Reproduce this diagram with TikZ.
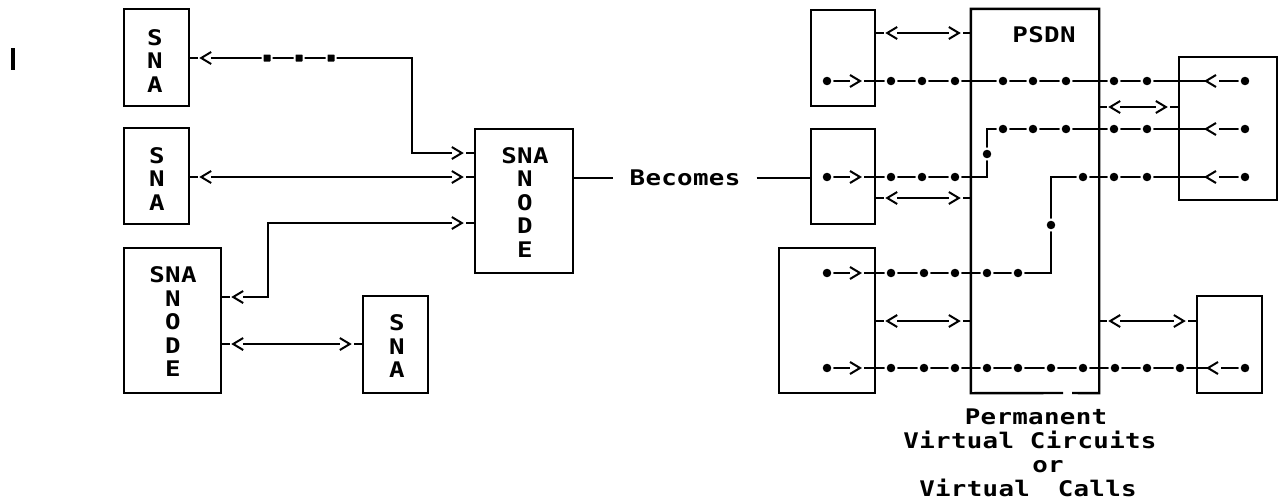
\documentclass[tikz,border=0pt]{standalone}
\usepackage{fontspec}
\newfontfamily\ibm[FakeStretch=1.2,LetterSpace=1.5]{DejaVu Sans Mono}
\tikzset{
  boxs/.style={draw, line width=2.4pt, inner sep=0pt, rectangle},
  ln/.style={line width=2pt},
  dotn/.style={circle, fill=black, draw=white, line width=2pt, inner sep=0pt, minimum size=11pt},
  sqn/.style={rectangle, fill=black, draw=white, line width=2pt, inner sep=0pt, minimum size=9pt, rounded corners=1pt},
  txt/.style={font=\ibm\bfseries\fontsize{21.5pt}{23.5pt}\selectfont, align=center, inner sep=0pt},
}
% end glyphs: "-<" at a left end, ">-" at a right end
\newcommand\tipL[1]{\draw[ln] (#1) ++(21,-6) -- ++(-10,6) -- ++(10,6); \draw[ln] (#1) -- ++(8,0);}
\newcommand\tipR[1]{\draw[ln] (#1) ++(-22,-6) -- ++(10,6) -- ++(-10,6); \draw[ln] (#1) -- ++(-8,0);}
\newcommand\bidir[3]{%
  \coordinate (bs) at (#1.east |- 0,#3);
  \coordinate (be) at (#2.west |- 0,#3);
  \tipL{bs}\tipR{be}
  \draw[ln] ([xshift=21pt]bs) -- ([xshift=-22pt]be);}
% chevrons by tip
\newcommand\chR[2]{\draw[ln] (#1-10,#2-6) -- (#1,#2) -- (#1-10,#2+6);}
\newcommand\chL[2]{\draw[ln] (#1+10,#2-6) -- (#1,#2) -- (#1+10,#2+6);}
\begin{document}
\begin{tikzpicture}[x=1pt,y=-1pt]
\useasboundingbox (0,0) rectangle (1279,501);

% change bar
\draw[line width=4pt] (13,48) -- (13,70);

% ---------- left part ----------
\node[boxs, minimum width=65pt, minimum height=97pt] (L1) at (156.5,57.5) {};
\node[boxs, minimum width=65pt, minimum height=96pt] (L2) at (156.5,176) {};
\node[boxs, minimum width=97pt, minimum height=145pt] (L3) at (172.5,320.5) {};
\node[boxs, minimum width=65pt, minimum height=97pt] (L4) at (395.5,344.5) {};
\node[boxs, minimum width=98pt, minimum height=144pt] (M) at (524,201) {};

\node[txt] (t1) at (155,61) {S\\N\\A};
\node[txt] (t2) at (157,179) {S\\N\\A};
\node[txt] (t3) at (173,322) {SNA\\N\\O\\D\\E};
\node[txt] (t4) at (397,346.5) {S\\N\\A};
\node[txt] (t5) at (525,202.5) {SNA\\N\\O\\D\\E};

% L1 to node, with squares
\coordinate (a0) at (L1.east |- 0,58);
\coordinate (a1) at (M.west |- 0,153);
\tipL{a0}\tipR{a1}
\draw[ln] ([xshift=21pt]a0) -| (412,153) -- ([xshift=-22pt]a1);
\node[sqn] (s1) at (267,58) {};
\node[sqn] (s2) at (299,58) {};
\node[sqn] (s3) at (331,58) {};

% L2 to node
\bidir{L2}{M}{177}

% L3 to node
\coordinate (c1) at (M.west |- 0,223);
\coordinate (c0) at (L3.east |- 0,297);
\tipR{c1}\tipL{c0}
\draw[ln] ([xshift=-22pt]c1) -| (268,297) -- ([xshift=21pt]c0);

% L3 to L4
\bidir{L3}{L4}{344}

% Becomes
\node[txt, inner xsep=16pt] (bec) at (685,177.5) {Becomes};

% ---------- right part ----------
\node[boxs, minimum width=64pt, minimum height=96pt] (A) at (843,58) {};
\node[boxs, minimum width=64pt, minimum height=95pt] (B) at (843,176.5) {};
\node[boxs, minimum width=96pt, minimum height=145pt] (C) at (827,320.5) {};
\node[inner sep=0pt, minimum width=128pt, minimum height=384pt] (P) at (1035,201) {};
\draw[line width=2.4pt] (1063,393) -- (P.south west) -- (P.north west) -- (P.north east) -- (P.south east) -- (1072,393);
\node[boxs, minimum width=98pt, minimum height=143pt] (D) at (1228,128.5) {};
\node[boxs, minimum width=65pt, minimum height=97pt] (E) at (1229.5,344.5) {};
\node[txt] (psdn) at (1044,35) {PSDN};

\draw[ln] (M.east |- bec) -- (bec.west);
\draw[ln] (bec.east) -- (B.west |- bec);

\bidir{A}{P}{33}
\bidir{P}{D}{107}
\bidir{B}{P}{198}
\bidir{C}{P}{321}
\bidir{P}{E}{321}

% row y=81
\draw[ln] (827,81) -- (850,81);
\chR{860}{81}
\draw[ln] (864,81) -- (1206,81);
\chL{1206}{81}
\draw[ln] (1219,81) -- (1245,81);
\foreach \x in {827,891,922,955,1003,1033,1066,1114,1147,1245}
  \node[dotn] (da\x) at (\x,81) {};

% rows y=177 -> 129
\draw[ln] (827,177) -- (850,177);
\chR{860}{177}
\draw[ln] (864,177) -- (987,177) -- (987,129) -- (1206,129);
\chL{1206}{129}
\draw[ln] (1219,129) -- (1245,129);
\foreach \x in {827,891,922,955}
  \node[dotn] (db\x) at (\x,177) {};
\node[dotn] (dbv) at (987,154) {};
\foreach \x in {1003,1033,1066,1114,1147,1245}
  \node[dotn] (dc\x) at (\x,129) {};

% rows y=273 -> 177
\draw[ln] (827,273) -- (850,273);
\chR{860}{273}
\draw[ln] (864,273) -- (1051,273) -- (1051,177) -- (1206,177);
\chL{1206}{177}
\draw[ln] (1219,177) -- (1245,177);
\foreach \x in {827,891,924,955,987,1018}
  \node[dotn] (dd\x) at (\x,273) {};
\node[dotn] (ddv) at (1051,225) {};
\foreach \x in {1083,1114,1147,1245}
  \node[dotn] (de\x) at (\x,177) {};

% row y=368
\draw[ln] (827,368) -- (850,368);
\chR{860}{368}
\draw[ln] (864,368) -- (1208,368);
\chL{1208}{368}
\draw[ln] (1221,368) -- (1245,368);
\foreach \x in {827,891,924,955,987,1018,1051,1083,1115,1147,1180,1245}
  \node[dotn] (df\x) at (\x,368) {};

% caption
\node[txt, anchor=base] (pv1) at (1036,424) {Permanent};
\node[txt, anchor=base] (pv2) at (1030,448) {Virtual Circuits};
\node[txt, anchor=base] (pv3) at (1048,472) {or};
\node[txt, anchor=base] (pv4) at (1028,496) {Virtual\hspace{12pt} Calls};
\end{tikzpicture}
\end{document}
